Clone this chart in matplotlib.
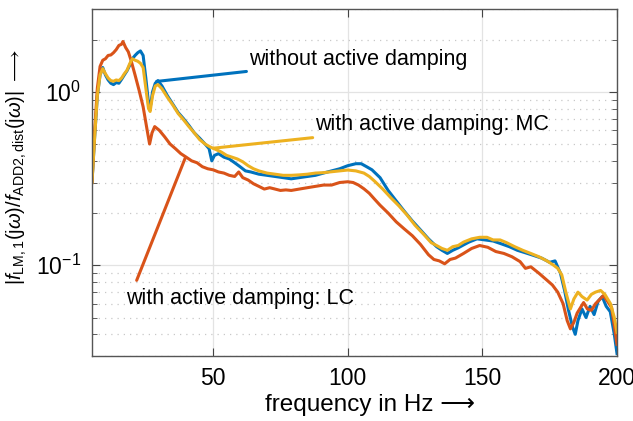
import numpy as np
import matplotlib
matplotlib.use("Agg")
import matplotlib.pyplot as plt
from matplotlib.ticker import FixedLocator, LogLocator, NullFormatter

plt.rcParams["font.family"] = ["Liberation Sans", "DejaVu Sans"]
plt.rcParams["mathtext.fontset"] = "custom"
plt.rcParams["mathtext.rm"] = "Liberation Sans"
plt.rcParams["mathtext.it"] = "Liberation Sans:italic"
plt.rcParams["mathtext.bf"] = "Liberation Sans:bold"
plt.rcParams["mathtext.fallback"] = "stixsans"

# frequency response magnitudes, read per series
freq_none = [5, 6, 7, 8, 9, 10, 11, 12, 13, 14, 15, 16, 17, 18, 19, 20, 21, 22, 23, 24,
             25, 26, 26.8, 27.5, 28.5, 29.5, 31, 33, 35, 37, 39, 41, 43, 45, 47, 48.5,
             49.5, 50.5, 52, 54, 56, 58, 60, 62, 64, 67, 70, 73, 76, 79, 82, 85, 88, 91,
             94, 97, 100, 103, 105, 107, 109, 112, 115, 118, 121, 124, 127, 130, 133,
             135, 137, 139, 141, 143, 145, 148, 151, 154, 157, 160, 163, 166, 169, 172,
             175, 177, 179, 180.5, 182, 183.5, 184.5, 185.5, 187, 188.5, 190, 191.5, 193,
             194.5, 196, 197.5, 199, 200]
mag_none = [0.30, 0.55, 0.95, 1.25, 1.38, 1.25, 1.17, 1.12, 1.10, 1.13, 1.12, 1.18, 1.25,
            1.32, 1.42, 1.55, 1.62, 1.68, 1.72, 1.62, 1.20, 0.86, 0.84, 1.00, 1.12, 1.16,
            1.08, 0.95, 0.85, 0.76, 0.70, 0.64, 0.58, 0.54, 0.50, 0.47, 0.40, 0.43, 0.44,
            0.42, 0.41, 0.39, 0.37, 0.35, 0.345, 0.335, 0.33, 0.325, 0.32, 0.315, 0.32,
            0.325, 0.33, 0.34, 0.35, 0.36, 0.375, 0.385, 0.385, 0.37, 0.355, 0.32, 0.27,
            0.235, 0.205, 0.18, 0.16, 0.142, 0.128, 0.122, 0.117, 0.122, 0.126, 0.131,
            0.136, 0.142, 0.14, 0.138, 0.133, 0.128, 0.122, 0.118, 0.114, 0.11, 0.104,
            0.106, 0.09, 0.072, 0.055, 0.044, 0.040, 0.048, 0.056, 0.050, 0.058, 0.052,
            0.062, 0.066, 0.058, 0.054, 0.040, 0.031]

freq_lc = [5, 6, 7, 8, 9, 10, 11, 12, 13, 14, 15, 16, 16.5, 17.5, 18.5, 19.5, 21, 22.5,
           24, 25.5, 26.4, 27.3, 28.3, 30, 32, 34, 36, 38, 40, 42, 44, 46, 48, 50, 52, 54,
           56, 58, 59.5, 61, 63, 65, 67, 69, 71, 73, 75, 77, 79, 82, 85, 88, 91, 94, 97,
           100, 102, 104, 106, 108, 110, 112, 115, 118, 121, 124, 127, 130, 132, 134, 136,
           138, 140, 143, 146, 149, 152, 155, 158, 161, 164, 166, 168, 171, 174, 176, 178,
           180, 181.5, 182.7, 184, 185.2, 187.6, 189, 190.5, 192, 195, 196.5, 198, 199, 200]
mag_lc = [0.30, 0.60, 1.05, 1.40, 1.52, 1.55, 1.62, 1.63, 1.68, 1.75, 1.85, 1.88, 1.95,
          1.80, 1.70, 1.52, 1.25, 1.02, 0.82, 0.60, 0.50, 0.58, 0.63, 0.60, 0.55, 0.50,
          0.47, 0.44, 0.42, 0.40, 0.39, 0.37, 0.36, 0.355, 0.345, 0.34, 0.33, 0.325, 0.345,
          0.32, 0.31, 0.295, 0.285, 0.275, 0.28, 0.275, 0.27, 0.272, 0.27, 0.275, 0.28,
          0.285, 0.29, 0.29, 0.30, 0.303, 0.30, 0.29, 0.276, 0.26, 0.24, 0.222, 0.20, 0.178,
          0.162, 0.148, 0.132, 0.115, 0.108, 0.106, 0.102, 0.108, 0.11, 0.117, 0.125, 0.13,
          0.127, 0.12, 0.117, 0.112, 0.105, 0.096, 0.098, 0.09, 0.082, 0.077, 0.07, 0.06,
          0.048, 0.043, 0.047, 0.053, 0.061, 0.056, 0.055, 0.06, 0.067, 0.062, 0.057, 0.045,
          0.035]

freq_mc = [5, 6, 7, 8, 9, 10, 11, 12, 13, 14, 15, 16, 17, 18, 19, 20, 21, 22, 23, 24, 25,
           26, 26.6, 27.5, 28.5, 29.5, 31, 33, 35, 37, 39, 41, 43, 45, 47, 49, 51, 53, 55,
           57, 59, 61, 63, 65, 67, 70, 73, 76, 79, 82, 85, 88, 91, 94, 97, 100, 103, 106,
           108, 110, 113, 116, 119, 122, 125, 128, 131, 133, 135, 137, 139, 141, 143, 146,
           149, 151.7, 154, 156.6, 159, 162, 165, 168, 171, 174, 176.5, 178, 179.5, 181,
           182.7, 184, 185.5, 187, 188.9, 190.5, 192, 193.9, 195.5, 197.6, 199, 200]
mag_mc = [0.30, 0.55, 0.95, 1.25, 1.36, 1.27, 1.20, 1.16, 1.15, 1.17, 1.16, 1.20, 1.27,
          1.33, 1.45, 1.55, 1.52, 1.50, 1.46, 1.38, 1.05, 0.80, 0.77, 0.95, 1.08, 1.10,
          1.04, 0.93, 0.84, 0.75, 0.69, 0.63, 0.58, 0.53, 0.50, 0.48, 0.465, 0.45, 0.43,
          0.42, 0.41, 0.395, 0.375, 0.36, 0.35, 0.34, 0.335, 0.33, 0.33, 0.332, 0.335,
          0.34, 0.342, 0.346, 0.35, 0.354, 0.35, 0.34, 0.325, 0.305, 0.275, 0.245, 0.22,
          0.195, 0.17, 0.152, 0.135, 0.13, 0.125, 0.122, 0.128, 0.13, 0.136, 0.142, 0.145,
          0.145, 0.14, 0.14, 0.135, 0.128, 0.122, 0.117, 0.112, 0.106, 0.10, 0.096, 0.088,
          0.07, 0.056, 0.064, 0.07, 0.066, 0.063, 0.068, 0.07, 0.0716, 0.068, 0.06, 0.05,
          0.041]

c_blue = "#0072BD"
c_red = "#D95319"
c_yellow = "#EDB120"
lw = 2.2

fig = plt.figure(figsize=(6.33, 4.21), dpi=100)
ax = fig.add_axes([0.1453, 0.1544, 0.8294, 0.8242])

ax.plot(freq_none, mag_none, color=c_blue, lw=lw)
ax.plot(freq_lc, mag_lc, color=c_red, lw=lw)
ax.plot(freq_mc, mag_mc, color=c_yellow, lw=lw)

ax.set_yscale("log")
ax.set_xlim(5, 200)
ax.set_ylim(0.03, 3)
ax.xaxis.set_major_locator(FixedLocator([50, 100, 150, 200]))
ax.yaxis.set_major_locator(LogLocator(base=10, numticks=10))
ax.yaxis.set_minor_locator(LogLocator(base=10, subs=np.arange(2, 10), numticks=10))
ax.yaxis.set_minor_formatter(NullFormatter())

ax.grid(True, which="major", color="#e3e3e3", lw=0.9)
ax.grid(True, which="minor", axis="y", color="#c8c8c8", lw=0.9, ls=(0, (1, 4)))
ax.set_axisbelow(True)

ax.tick_params(which="both", direction="in", top=True, right=True, labelsize=16.5,
               color="#444444", pad=8)
ax.tick_params(which="major", length=6)
ax.tick_params(which="minor", length=3.5)
for s in ax.spines.values():
    s.set_color("#555555")
    s.set_linewidth(1.0)

ax.set_xlabel("frequency in Hz \u27f6", fontsize=17.5)
ax.xaxis.set_label_coords(0.53, -0.11)
ax.set_ylabel(r"$|f_{\mathrm{LM,1}}(\mathrm{j}\omega)/f_{\mathrm{ADD2,dist}}(\mathrm{j}\omega)|"
              r"\ \longrightarrow$", fontsize=14.5)
ax.yaxis.set_label_coords(-0.12, 0.545)

# labelled curves
ax.annotate("without active damping", xy=(29.0, 1.147), xytext=(63.4, 1.545),
            fontsize=15.5, va="center", ha="left", color="black",
            arrowprops=dict(arrowstyle="-", color=c_blue, lw=lw, shrinkA=0, shrinkB=0))
ax.annotate("with active damping: MC", xy=(50.1, 0.473), xytext=(88.0, 0.644),
            fontsize=15.5, va="center", ha="left", color="black",
            arrowprops=dict(arrowstyle="-", color=c_yellow, lw=lw, shrinkA=0, shrinkB=0))
ax.annotate("", xy=(39.6, 0.414), xytext=(21.6, 0.0819),
            arrowprops=dict(arrowstyle="-", color=c_red, lw=lw, shrinkA=0, shrinkB=0))
ax.text(17.6, 0.0645, "with active damping: LC", fontsize=15.5, va="center", ha="left")

fig.savefig("out.png", dpi=100)
